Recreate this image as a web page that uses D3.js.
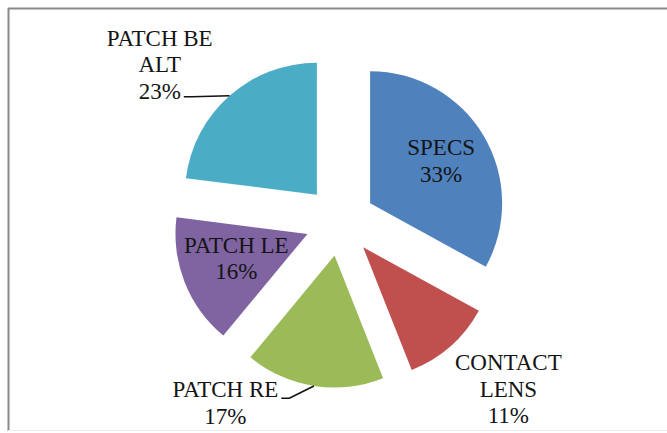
<!DOCTYPE html>
<html>
<head>
<meta charset="utf-8">
<script src="https://cdn.jsdelivr.net/npm/d3@7"></script>
<style>
  html, body { margin: 0; padding: 0; background: #ffffff; }
  svg { display: block; }
</style>
</head>
<body>
<div id="chart"></div>
<script>
// ---- data ----
const categories = ["SPECS", "CONTACT LENS", "PATCH RE", "PATCH LE", "PATCH BE ALT"];
const values = [33, 11, 17, 16, 23];
const labelLines = [["SPECS"], ["CONTACT", "LENS"], ["PATCH RE"], ["PATCH LE"], ["PATCH BE", "ALT"]];
const colors = ["#4F81BD", "#C0504D", "#9BBB59", "#8064A2", "#4BACC6"];

// ---- layout (label placement, polar relative to exploded slice apex) ----
const labelAngleDeg = [59.4, 134.4, 216.5, 251, 309.6];
const labelRadiusK = [0.625, 1.54, 1.39, 0.57, 1.545];
const leaderLineIdx = [null, null, 0, null, 2];

const W = 667, H = 433;
const cx = 340, cy = 221, R = 132, explode = 35;
const fontSize = 23, lineH = 26.5;

const svg = d3.select("#chart").append("svg")
  .attr("width", W).attr("height", H);

svg.append("rect").attr("width", W).attr("height", H).attr("fill", "#ffffff");

// frame
svg.append("line").attr("x1", 8).attr("x2", W).attr("y1", 8.5).attr("y2", 8.5)
  .attr("stroke", "#8a8a8a").attr("stroke-width", 2);
svg.append("line").attr("x1", 8.5).attr("x2", 8.5).attr("y1", 8).attr("y2", 431)
  .attr("stroke", "#8a8a8a").attr("stroke-width", 2);
svg.append("line").attr("x1", 8).attr("x2", W).attr("y1", 430.5).attr("y2", 430.5)
  .attr("stroke", "#ececec").attr("stroke-width", 1);

const pie = d3.pie().sort(null).value(d => d.value);
const data = categories.map((c, i) => ({ name: c, value: values[i], i }));
const arcs = pie(data);
const arc = d3.arc().innerRadius(0).outerRadius(R);
const total = d3.sum(values);

const g = svg.append("g").attr("transform", `translate(${cx},${cy})`);

function polar(a, r) { return [Math.sin(a) * r, -Math.cos(a) * r]; }

arcs.forEach(a => {
  const mid = (a.startAngle + a.endAngle) / 2;
  const [ox, oy] = polar(mid, explode);
  const sg = g.append("g").attr("transform", `translate(${ox},${oy})`);
  sg.append("path").attr("d", arc(a)).attr("fill", colors[a.data.i]);

  const i = a.data.i;
  const la = labelAngleDeg[i] * Math.PI / 180;
  const [lx, ly] = polar(la, labelRadiusK[i] * R);
  const lines = labelLines[i].concat([Math.round(a.data.value / total * 100) + "%"]);
  const n = lines.length;
  const firstBase = ly - (n - 1) * lineH / 2 + 7.5;
  const texts = [];
  lines.forEach((t, k) => {
    const tx = sg.append("text")
      .attr("x", lx).attr("y", firstBase + k * lineH)
      .attr("text-anchor", "middle")
      .style("font-family", "'Liberation Serif', 'Times New Roman', serif")
      .style("font-size", fontSize + "px")
      .attr("fill", "#141414")
      .text(t);
    texts.push(tx);
  });

  const li = leaderLineIdx[i];
  if (li !== null) {
    const tnode = texts[li].node();
    const len = tnode.getComputedTextLength();
    const baseY = firstBase + li * lineH;
    const sx = lx + len / 2 + 3;
    const sy = li === 0 ? baseY + 1 : baseY - 2;
    const [ex, ey] = polar(mid, R);
    sg.append("polyline")
      .attr("points", [[sx, sy], [sx + 8, sy], [ex, ey]].map(p => p.join(",")).join(" "))
      .attr("fill", "none").attr("stroke", "#111").attr("stroke-width", 1.6);
  }
});
</script>
</body>
</html>
